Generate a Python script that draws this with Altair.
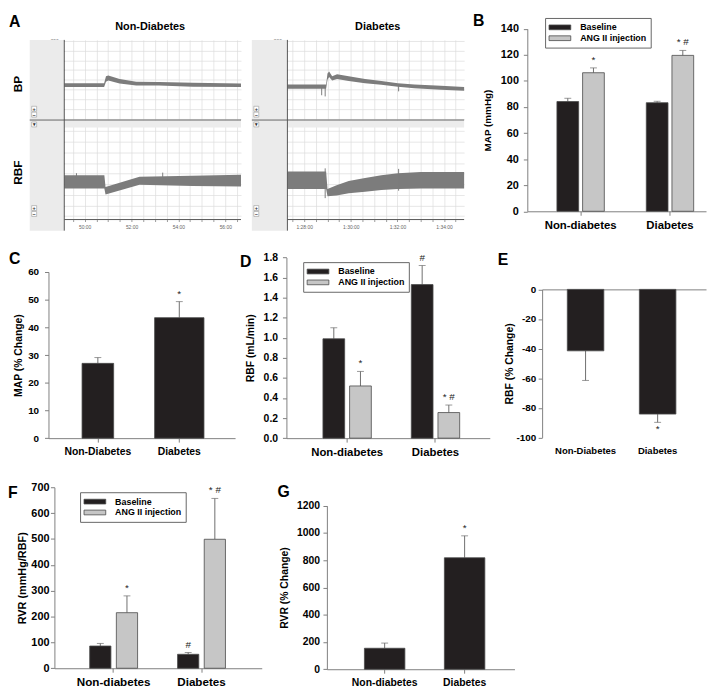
import altair as alt
import pandas as pd

# ---------------- values ----------------
GROUPS = ["Non-diabetes", "Diabetes"]
GROUPS_CAP = ["Non-Diabetes", "Diabetes"]
TREAT = ["Baseline", "ANG II injection"]

# B  MAP (mmHg)
b_base = [84.2, 83.3]
b_base_err = [2.5, 1.1]
b_ang = [106.3, 119.6]
b_ang_err = [3.7, 3.8]
b_base_sig = ["", ""]
b_ang_sig = ["*", "* #"]

# C  MAP (% change)
c_val = [27.0, 43.5]
c_err = [2.1, 5.8]
c_sig = ["", "*"]

# D  RBF (mL/min)
d_base = [0.99, 1.53]
d_base_err = [0.11, 0.19]
d_ang = [0.52, 0.255]
d_ang_err = [0.145, 0.075]
d_base_sig = ["", "#"]
d_ang_sig = ["*", "* #"]

# E  RBF (% change)
e_val = [-41.5, -84.2]
e_err = [20.0, 5.6]
e_sig = ["", "*"]

# F  RVR (mmHg/RBF)
f_base = [86, 54]
f_base_err = [10, 7]
f_ang = [215, 499]
f_ang_err = [65, 158]
f_base_sig = ["", "#"]
f_ang_sig = ["*", "* #"]

# G  RVR (% change)
g_val = [154, 818]
g_err = [38, 161]
g_sig = ["", "*"]

# A  recordings (time in minutes; lower / upper edge of the signal band)
nd_bp_t = [49.13, 50.83, 50.91, 51.01, 51.49, 52.20, 53.17, 54.61, 56.67]
nd_bp_lo = [81, 81, 95, 98, 90, 85, 85, 82, 81]
nd_bp_hi = [91, 91, 109, 111, 102, 95, 94, 92, 90]
nd_rbf_t = [49.13, 50.84, 50.89, 52.34, 54.60, 56.67]
nd_rbf_lo = [0.6, 0.6, 0.05, 0.95, 0.85, 0.8]
nd_rbf_hi = [1.85, 1.85, 0.75, 1.72, 1.8, 1.9]
nd_rbf_spike_t = [49.65, 53.33]
nd_rbf_spike_lo = [1.5, 1.5]
nd_rbf_spike_hi = [2.05, 2.1]

d_bp_t = [87.28, 88.94, 89.00, 89.07, 89.20, 89.41, 89.91, 90.61, 91.31, 92.02, 92.73, 93.86, 94.86]
d_bp_lo = [77, 77, 100, 107, 98, 102, 97, 91, 87, 82, 78, 74, 71.5]
d_bp_hi = [88, 88, 116, 121, 109, 114, 109, 102, 97, 91, 88, 84.5, 81]
d_bp_spike_t = [88.75, 88.90, 92.05]
d_bp_spike_lo = [60, 57, 70]
d_bp_spike_hi = [80, 80, 84]
d_rbf_t = [87.28, 88.94, 89.00, 89.39, 89.91, 90.61, 91.31, 92.02, 93.00, 94.86]
d_rbf_lo = [0.55, 0.55, -0.12, -0.06, 0.15, 0.30, 0.46, 0.55, 0.60, 0.60]
d_rbf_hi = [2.2, 2.2, 0.55, 0.92, 1.32, 1.6, 1.85, 2.03, 2.15, 2.15]
d_rbf_spike_t = [88.90, 92.05]
d_rbf_spike_lo = [-0.3, 0.4]
d_rbf_spike_hi = [2.5, 2.45]

bp_ticks = [0, 25, 50, 75, 100, 125, 150, 175, 200]
rbf_ticks = [-2, -1, 0, 1, 2, 3, 4, 5, 6]
nd_time_ticks = [49.5, 50, 50.5, 51, 51.5, 52, 52.5, 53, 53.5, 54, 54.5, 55, 55.5, 56, 56.5]
d_time_ticks = [87.5, 88, 88.5, 89, 89.5, 90, 90.5, 91, 91.5, 92, 92.5, 93, 93.5, 94, 94.5]

# ---------------- style / layout ----------------
FONT = "Liberation Sans"
W, H = 706, 682
BLACK = "#231f20"
LIGHT = "#c6c6c6"
EDGE = "#4a4a4a"
ERR = "#6e6e6e"
AXIS = "#7f7f7f"
TRACE = "#7c7c7c"
GRID = "#dcdcdc"


def X(rx):
    return round(rx - 2, 2)


def Y(ry):
    return round((ry - 3) * 0.996, 2)


ONE = alt.Data(values=[{}])


def rect(x0, x1, y0, y1, fill, stroke=None):
    kw = dict(fill=fill)
    if stroke:
        kw.update(stroke=stroke, strokeWidth=0.6)
    return alt.Chart(ONE).mark_rect(**kw).encode(
        x=alt.value(X(x0)), x2=alt.value(X(x1)), y=alt.value(Y(y0)), y2=alt.value(Y(y1)))


def hline(x0, x1, y, color="#666", w=1.0):
    return alt.Chart(ONE).mark_rule(color=color, strokeWidth=w).encode(
        x=alt.value(X(x0)), x2=alt.value(X(x1)), y=alt.value(Y(y)))


def vline(x, y0, y1, color="#666", w=1.0):
    return alt.Chart(ONE).mark_rule(color=color, strokeWidth=w).encode(
        x=alt.value(X(x)), y=alt.value(Y(y0)), y2=alt.value(Y(y1)))


def label(text, x, y, size, angle=0, align="left", baseline="top", color="black", weight="bold"):
    return alt.Chart(ONE).mark_text(
        text=text, font=FONT, fontSize=size, fontWeight=weight, color=color,
        angle=angle, align=align, baseline=baseline).encode(x=alt.value(X(x)), y=alt.value(Y(y)))


def band(groups, r0, r1, c1, c2, bw):
    step = c2 - c1
    pi = 1 - bw / step
    span = r1 - r0
    po = (span / step - 2 + pi) / 2
    align = (c1 - bw / 2 - r0) / (span - step * (2 - pi))
    return alt.Scale(domain=groups, range=[X(r0), X(r1)], paddingInner=round(pi, 4),
                     paddingOuter=round(po, 4), align=round(align, 4))


def lin(domain, ry0, ry1):
    return alt.Scale(domain=domain, range=[Y(ry0), Y(ry1)], nice=False, zero=False)


def bar_y_axis(rx, values, title, lsize, tsize, lpad, tpad, fmt=None, expr=None):
    kw = dict(orient="left", offset=-X(rx), values=values, title=title, grid=False,
              domainColor=AXIS, tickColor=AXIS, tickSize=4, labelPadding=lpad,
              labelFont=FONT, labelFontWeight="bold", labelFontSize=lsize, labelColor="black",
              titleFont=FONT, titleFontWeight="bold", titleFontSize=tsize, titleColor="black",
              titlePadding=tpad)
    if fmt:
        kw["format"] = fmt
    if expr:
        kw["labelExpr"] = expr
    return alt.Axis(**kw)


def bar_x_axis(ry, lsize, lpad, labels=True, ticks=True, domain=True, orient="bottom"):
    off = Y(ry) - H if orient == "bottom" else -Y(ry)
    return alt.Axis(orient=orient, offset=off, title=None, labelAngle=0, labels=labels,
                    ticks=ticks, domain=domain, domainColor=AXIS, tickColor=AXIS, tickSize=4,
                    labelPadding=lpad, labelFont=FONT, labelFontWeight="bold", labelFontSize=lsize,
                    labelColor="black", grid=False, labelOverlap=False)


def legend(rx, ry):
    return alt.Legend(orient="none", legendX=X(rx), legendY=Y(ry), direction="vertical",
                      symbolType="M-2.2,-0.48H2.2V0.48H-2.2Z", symbolSize=100,
                      symbolStrokeColor=EDGE, symbolStrokeWidth=0.8, symbolOffset=5.5,
                      labelFont=FONT, labelFontWeight="bold", labelFontSize=9, labelColor="black",
                      labelOffset=15, rowPadding=0, padding=4, strokeColor="#666",
                      fillColor="white")


def grouped(groups, base, base_err, ang, ang_err, base_sig, ang_sig, xs, gap_frac, ys, xax, yax, leg):
    rows = []
    for i, g in enumerate(groups):
        rows.append({"group": g, "treat": TREAT[0], "mean": base[i], "end": base[i] + base_err[i], "sig": base_sig[i]})
        rows.append({"group": g, "treat": TREAT[1], "mean": ang[i], "end": ang[i] + ang_err[i], "sig": ang_sig[i]})
    df = pd.DataFrame(rows)
    xo = alt.Scale(domain=TREAT, paddingInner=gap_frac, paddingOuter=0)
    xoe = alt.XOffset("treat:N", scale=xo)
    xe = alt.X("group:N", scale=xs, axis=xax)
    c = alt.Chart(df)
    err = c.mark_rule(color=ERR, strokeWidth=1).encode(
        x=xe, xOffset=xoe, y=alt.Y("mean:Q", scale=ys, axis=yax), y2="end:Q")
    bars = c.mark_bar(stroke=EDGE, strokeWidth=0.8).encode(
        x=xe, xOffset=xoe, y=alt.Y("mean:Q", scale=ys, axis=yax, stack=None),
        color=alt.Color("treat:N", scale=alt.Scale(domain=TREAT, range=[BLACK, LIGHT]), legend=leg, title=None))
    cap = c.mark_tick(color=ERR, thickness=1, size=7, orient="horizontal").encode(
        x=xe, xOffset=xoe, y=alt.Y("end:Q", scale=ys, axis=yax))
    txt = c.mark_text(font=FONT, fontSize=10, color="#222", baseline="alphabetic", dy=-5).encode(
        x=xe, xOffset=xoe, y=alt.Y("end:Q", scale=ys, axis=yax), text="sig:N")
    return alt.layer(err, bars, cap, txt)


def single(groups, vals, errs, sigs, xs, ys, xax, yax, sizes, neg=False, label_ax=None):
    df = pd.DataFrame({"group": groups, "mean": vals,
                       "end": [v - e if neg else v + e for v, e in zip(vals, errs)], "sig": sigs})
    c = alt.Chart(df)
    xe = alt.X("group:N", scale=xs, axis=xax)
    layers = [c.mark_rule(color=ERR, strokeWidth=1).encode(
        x=xe, y=alt.Y("mean:Q", scale=ys, axis=yax), y2="end:Q")]
    for i, g in enumerate(groups):
        layers.append(c.transform_filter(alt.datum.group == g).mark_bar(
            size=sizes[i], color=BLACK, stroke=EDGE, strokeWidth=0.8).encode(
            x=xe, y=alt.Y("mean:Q", scale=ys, axis=yax)))
    layers.append(c.mark_tick(color=ERR, thickness=1, size=7, orient="horizontal").encode(
        x=xe, y=alt.Y("end:Q", scale=ys, axis=yax)))
    txt = c.mark_text(font=FONT, fontSize=10, color="#222",
                      baseline="top" if neg else "alphabetic", dy=2 if neg else -5).encode(
        x=alt.X("group:N", scale=xs, axis=label_ax if label_ax is not None else xax),
        y=alt.Y("end:Q", scale=ys, axis=yax), text="sig:N")
    if label_ax is None:
        return alt.layer(*layers, txt)
    return alt.layer(alt.layer(*layers), txt).resolve_axis(x="independent")


# ---------------- panel A: recordings ----------------
bp_y = lin([-3.8, 202.5], 109.5, 28)
rbf_y = lin([-2.25, 7.0], 210, 110)


def trace_y_axis(rx, values, every, title):
    return alt.Axis(orient="left", offset=-X(rx), values=values,
                    labelExpr=f"datum.value % {every} == 0 ? datum.label : ''",
                    grid=True, gridColor=GRID, gridWidth=0.7, domain=False, tickSize=3,
                    tickColor="#999", labelFont=FONT, labelFontSize=5, labelColor="#777",
                    labelPadding=3, title=title, titleFont=FONT, titleFontSize=4.5,
                    titleFontWeight="normal", titleColor="#888", titlePadding=12)


def time_grid(values):
    return alt.Axis(orient="top", offset=0, values=values, grid=True, gridColor=GRID, gridWidth=0.7,
                    labels=False, ticks=False, domain=False, title=None)


def time_axis(values, expr):
    return alt.Axis(orient="bottom", offset=Y(210.7) - H, values=values, labelExpr=expr,
                    grid=False, domain=False, tickSize=2,
                    tickColor="#999", labelFont=FONT, labelFontSize=5, labelColor="#666",
                    labelPadding=3, title=None, labelFlush=False, labelOverlap=False)


def trace(t, lo, hi, xs, ys, xax, yax, sp_t=None, sp_lo=None, sp_hi=None):
    df = pd.DataFrame({"t": t, "lo": lo, "hi": hi})
    xe = alt.X("t:Q", scale=xs, axis=xax)
    area = alt.Chart(df).mark_area(color=TRACE, opacity=1).encode(
        x=xe, y=alt.Y("lo:Q", scale=ys, axis=yax), y2="hi:Q")
    if not sp_t:
        return area
    sdf = pd.DataFrame({"t": sp_t, "lo": sp_lo, "hi": sp_hi})
    spikes = alt.Chart(sdf).mark_rule(color=TRACE, strokeWidth=1).encode(
        x=xe, y=alt.Y("lo:Q", scale=ys, axis=yax), y2="hi:Q")
    return alt.layer(area, spikes)


def time_labels(ticks, xs, expr):
    df = pd.DataFrame({"t": ticks})
    return alt.Chart(df).mark_point(opacity=0).encode(
        x=alt.X("t:Q", scale=xs, axis=time_axis(ticks, expr)), y=alt.value(0))


nd_x = alt.Scale(domain=[49.13, 56.67], range=[X(57), X(236)], nice=False, zero=False)
d_x = alt.Scale(domain=[87.28, 94.86], range=[X(283), X(462)], nice=False, zero=False)
nd_expr = "datum.value % 2 == 0 ? format(datum.value, 'd') + ':00' : ''"
d_expr = "datum.value % 2 == 0 ? '1:' + format(datum.value - 60, '02d') + ':00' : ''"

layers = []
for sx0, px0, px1 in [(22, 57, 236), (247, 283, 462)]:
    layers.append(rect(sx0, px0, 28, 222, "#ebebeb"))
    layers.append(rect(px0, px1, 110, 117, "#ececec"))

layers += [
    trace(nd_bp_t, nd_bp_lo, nd_bp_hi, nd_x, bp_y, time_grid(nd_time_ticks),
          trace_y_axis(57, bp_ticks, 50, "mmHg")),
    trace(nd_rbf_t, nd_rbf_lo, nd_rbf_hi, nd_x, rbf_y, time_grid(nd_time_ticks),
          trace_y_axis(57, rbf_ticks, 2, "mL/min"), nd_rbf_spike_t, nd_rbf_spike_lo, nd_rbf_spike_hi),
    time_labels(nd_time_ticks, nd_x, nd_expr),
    trace(d_bp_t, d_bp_lo, d_bp_hi, d_x, bp_y, time_grid(d_time_ticks),
          trace_y_axis(283, bp_ticks, 50, "mmHg"), d_bp_spike_t, d_bp_spike_lo, d_bp_spike_hi),
    trace(d_rbf_t, d_rbf_lo, d_rbf_hi, d_x, rbf_y, time_grid(d_time_ticks),
          trace_y_axis(283, rbf_ticks, 2, "mL/min"), d_rbf_spike_t, d_rbf_spike_lo, d_rbf_spike_hi),
    time_labels(d_time_ticks, d_x, d_expr),
]

for sx0, px0, px1 in [(22, 57, 236), (247, 283, 462)]:
    layers.append(hline(sx0, px1, 109.5, "#666", 1))
    layers.append(hline(px0, px1, 210.7, "#555", 1))
    layers.append(vline(px0, 28, 222, "#555", 1))
    for yy, sym in [(98, "+"), (104, "\u2212"), (199, "+"), (205, "\u2212"), (114, "\u25be")]:
        layers.append(rect(sx0 + 2, sx0 + 7, yy - 2.5, yy + 2.5, "white", "#999"))
        layers.append(label(sym, sx0 + 4.5, yy, 5.5, align="center", baseline="middle", color="#333"))

layers += [
    label("A", 1, 2, 16),
    label("Non-Diabetes", 144, 15, 11, align="center", baseline="middle"),
    label("Diabetes", 374.5, 15, 11, align="center", baseline="middle"),
    label("BP", 10, 73, 12, angle=270, align="center", baseline="middle"),
    label("RBF", 10, 163, 12, angle=270, align="center", baseline="middle"),
    label("B", 471, 1, 16),
    label("C", 1, 243, 16),
    label("D", 235, 246, 16),
    label("E", 496, 244, 16),
    label("F", 0, 481, 16),
    label("G", 273, 480, 16),
]

# ---------------- panel B ----------------
layers.append(grouped(
    GROUPS, b_base, b_base_err, b_ang, b_ang_err, b_base_sig, b_ang_sig,
    band(GROUPS, 526, 707, 580, 670.5, 48), 4 / 26, lin([0, 140], 202.3, 16.7),
    bar_x_axis(202.3, 11.5, 4),
    bar_y_axis(526, [0, 20, 40, 60, 80, 100, 120, 140], "MAP (mmHg)", 11, 10, 5, 8),
    legend(544, 5.7)))

# ---------------- panel C ----------------
layers.append(single(
    GROUPS_CAP, c_val, c_err, c_sig, band(GROUPS_CAP, 41, 230, 91, 173.5, 50),
    lin([0, 60], 433, 264), bar_x_axis(433, 10.5, 4.5),
    bar_y_axis(41, [0, 10, 20, 30, 40, 50, 60], "MAP (% Change)", 10, 10.5, 6, 4), [32, 50]))

# ---------------- panel D ----------------
layers.append(grouped(
    GROUPS, d_base, d_base_err, d_ang, d_ang_err, d_base_sig, d_ang_sig,
    band(GROUPS, 282, 488, 343.5, 433, 49), 5 / 27, lin([0, 1.8], 433, 249.3),
    bar_x_axis(433, 11.5, 5),
    bar_y_axis(282, [0, 0.2, 0.4, 0.6, 0.8, 1.0, 1.2, 1.4, 1.6, 1.8], "RBF (mL/min)", 10.5, 10.5, 5, 8, fmt=".1f"),
    legend(299, 254)))

# ---------------- panel E ----------------
layers.append(single(
    GROUPS_CAP, e_val, e_err, e_sig, band(GROUPS_CAP, 541, 707, 585, 658, 37),
    lin([-100, 0], 432.3, 281.7), bar_x_axis(281.7, 10, 4, labels=False),
    bar_y_axis(541, [-100, -80, -60, -40, -20, 0], "RBF (% Change)", 10, 10.5, 2.5, 1,
               expr="datum.value < 0 ? '-' + format(-datum.value, 'd') : format(datum.value, 'd')"),
    [37, 37], neg=True, label_ax=bar_x_axis(432.3, 9.6, 8.7, ticks=False, domain=False)))

# ---------------- panel F ----------------
layers.append(grouped(
    GROUPS, f_base, f_base_err, f_ang, f_ang_err, f_base_sig, f_ang_sig,
    band(GROUPS, 47, 257, 107, 196, 48.5), 5.5 / 27, lin([0, 700], 667, 483),
    bar_x_axis(667, 11.8, 4.2),
    bar_y_axis(47, [0, 100, 200, 300, 400, 500, 600, 700], "RVR (mmHg/RBF)", 11, 11, 1.5, 3),
    legend(73, 488)))

# ---------------- panel G ----------------
layers.append(single(
    GROUPS, g_val, g_err, g_sig, band(GROUPS, 323, 513, 381.5, 462.5, 41),
    lin([0, 1200], 668, 501.7), bar_x_axis(668, 10.5, 4),
    bar_y_axis(323, [0, 200, 400, 600, 800, 1000, 1200], "RVR (% Change)", 10.5, 10.5, 3.5, 7, fmt="d"),
    [41, 41]))

chart = (
    alt.layer(*layers)
    .resolve_scale(x="independent", y="independent", color="independent", xOffset="independent")
    .resolve_axis(x="independent", y="independent")
    .resolve_legend(color="independent")
    .properties(width=W, height=H, padding=0, background="white")
    .configure_view(strokeWidth=0)
)

chart.save("out.html", embed_options={"renderer": "svg", "actions": False})
